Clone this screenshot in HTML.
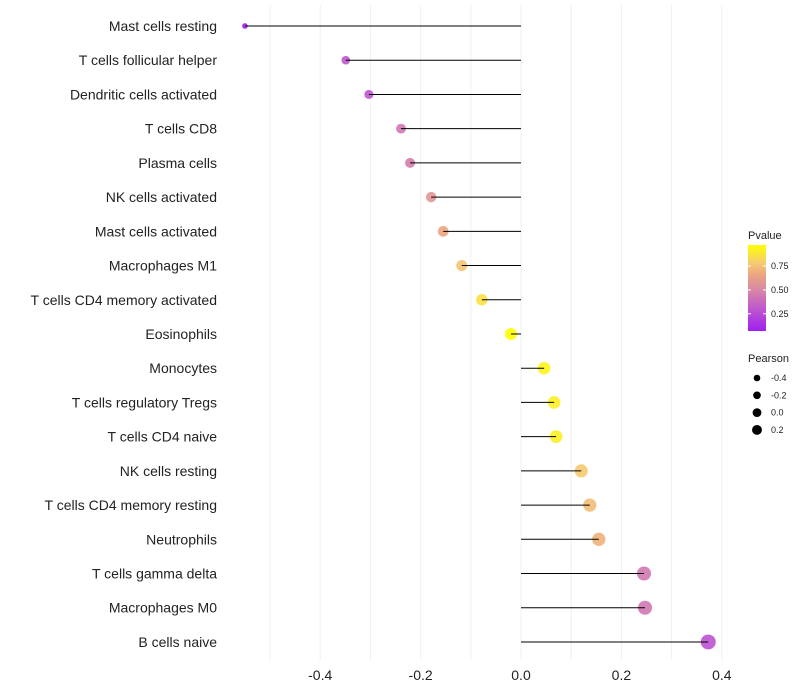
<!DOCTYPE html>
<html><head><meta charset="utf-8"><style>body{margin:0;background:#fff}svg{display:block;font-family:"Liberation Sans",sans-serif}</style></head>
<body>
<svg id="chart" width="800" height="700"></svg>
<script>
const categories=["Mast cells resting","T cells follicular helper","Dendritic cells activated","T cells CD8","Plasma cells","NK cells activated","Mast cells activated","Macrophages M1","T cells CD4 memory activated","Eosinophils","Monocytes","T cells regulatory  Tregs ","T cells CD4 naive","NK cells resting","T cells CD4 memory resting","Neutrophils","T cells gamma delta","Macrophages M0","B cells naive"];
const pearson=[-0.550,-0.349,-0.303,-0.239,-0.221,-0.179,-0.155,-0.118,-0.078,-0.020,0.046,0.066,0.070,0.120,0.137,0.155,0.245,0.247,0.373];
const pvalue=[0.08,0.30,0.30,0.44,0.46,0.58,0.66,0.76,0.86,0.97,0.93,0.91,0.91,0.78,0.74,0.70,0.44,0.44,0.28];
const xTicks=[-0.4,-0.2,0.0,0.2,0.4];
const gridVals=[-0.5,-0.4,-0.3,-0.2,-0.1,0,0.1,0.2,0.3,0.4];
const pTicks=[0.25,0.5,0.75];
const sizeTicks=[-0.4,-0.2,0.0,0.2];
const NS="http://www.w3.org/2000/svg",svg=document.getElementById('chart');
const X=v=>521+v*502, Y=i=>26+i*34.22;
const R=v=>Math.sqrt(Math.max(2,36.7+52*v));
const stops=[[0,[160,32,240]],[0.3,[196,96,200]],[0.5,[218,140,160]],[0.65,[235,165,130]],[0.8,[245,205,110]],[1,[255,255,0]]];
function col(p){const t=Math.max(0,Math.min(1,(p-0.07)/0.9));for(let k=1;k<stops.length;k++){if(t<=stops[k][0]){const [o0,c0]=stops[k-1],[o1,c1]=stops[k];const u=(t-o0)/(o1-o0);return `rgb(${c0.map((c,j)=>Math.round(c+(c1[j]-c)*u)).join(',')})`}}return 'rgb(255,255,0)'}
function el(t,a,txt){const e=document.createElementNS(NS,t);for(const k in a)e.setAttribute(k,a[k]);if(txt!=null)e.textContent=txt;svg.appendChild(e);return e}
gridVals.forEach(v=>{const g=el('line',{x1:X(v),x2:X(v),y1:5,y2:660,stroke:'#f0f0f0','stroke-width':1});

});
xTicks.forEach(v=>{const t=el('text',{x:X(v),y:680,'text-anchor':'middle','font-size':14,fill:'#222'},v.toFixed(1));

});
categories.forEach((c,i)=>{const y=Y(i);
const t=el('text',{x:217,y:y+5,'text-anchor':'end','font-size':14,fill:'#222'},c);


const d=el('circle',{cx:X(pearson[i]),cy:y,r:R(pearson[i]),fill:col(pvalue[i]),'fill-opacity':0.9});


const l=el('line',{x1:X(0),x2:X(pearson[i]),y1:y,y2:y,stroke:'#000','stroke-width':1});

});
const t1=el('text',{x:748,y:239,'font-size':11,fill:'#222'},'Pvalue');


const defs=el('defs',{});const lg=document.createElementNS(NS,'linearGradient');lg.setAttribute('id','pg');lg.setAttribute('x1',0);lg.setAttribute('x2',0);lg.setAttribute('y1',1);lg.setAttribute('y2',0);
stops.forEach(([o,c])=>{const s=document.createElementNS(NS,'stop');s.setAttribute('offset',o);s.setAttribute('stop-color',`rgb(${c.join(',')})`);lg.appendChild(s)});defs.appendChild(lg);
const bar=el('rect',{x:748,y:245,width:18,height:86,fill:'url(#pg)'});


pTicks.forEach(p=>{const y=331-(p-0.07)/0.9*86;
el('line',{x1:748,x2:751,y1:y,y2:y,stroke:'#fff'});el('line',{x1:763,x2:766,y1:y,y2:y,stroke:'#fff'});
const t=el('text',{x:771,y:y+3,'font-size':9,fill:'#222'},p.toFixed(2));

});
const t2=el('text',{x:748,y:362,'font-size':11,fill:'#222'},'Pearson');


sizeTicks.forEach((v,i)=>{const y=378+i*17.3;
const c=el('circle',{cx:757,cy:y,r:(3.3+5*(v+0.4)*0.55).toFixed(2),fill:'#000'});


const t=el('text',{x:771,y:y+3,'font-size':9,fill:'#222'},v.toFixed(1));

});
</script>
</body></html>
